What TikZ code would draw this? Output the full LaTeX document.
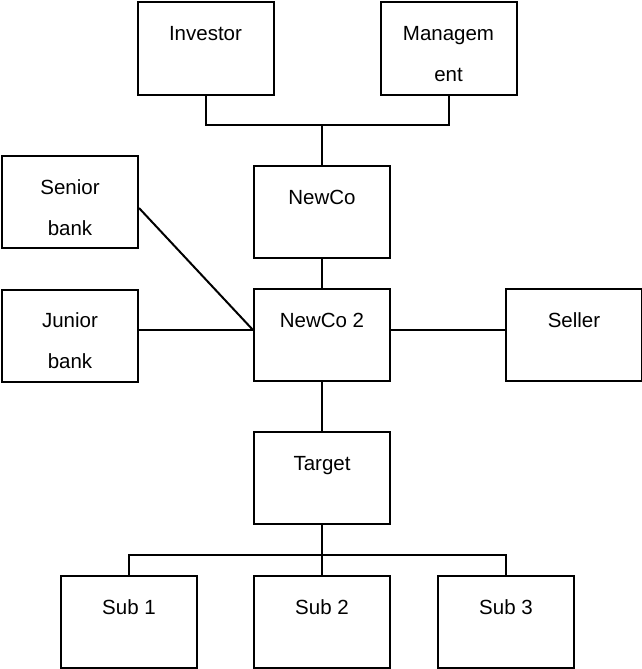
\documentclass[tikz,border=0pt]{standalone}
\usepackage{fontspec}
\setmainfont{Liberation Sans}
\usepackage{tikz}
\usetikzlibrary{positioning,calc}

\begin{document}
\begin{tikzpicture}[
    x=1pt, y=-1pt,
    entity/.style={rectangle, draw, line width=2pt, inner sep=0pt, minimum width=136pt,
        text height=38pt, text depth=54pt, align=center,
        font=\fontsize{20.5pt}{41pt}\selectfont},
    twoline/.style={text height=79pt, text depth=13pt},
    link/.style={line width=2pt}
]
    \useasboundingbox (0,0) rectangle (641,669);

    % Owners
    \node[entity] (investor) at (205.5,48.5) {Investor};
    \node[entity, twoline] (mgmt) at (448.5,48.5) {Managem\\ent};

    % Holding companies
    \node[entity] (newco) at (322,212) {NewCo};
    \node[entity] (newcotwo) at (322,335) {NewCo 2};

    % Lenders and seller
    \node[entity, twoline] (senior) at (70,202) {Senior\\bank};
    \node[entity, twoline] (junior) at (70,335.5) {Junior\\bank};
    \node[entity] (seller) at (574,335) {Seller};

    % Target group
    \node[entity] (target) at (322,478) {Target};
    \node[entity] (sub1) at (129,622) {Sub 1};
    \node[entity] (sub2) at (322,622) {Sub 2};
    \node[entity] (sub3) at (506,622) {Sub 3};

    \coordinate (ownbus) at (322,125);
    \coordinate (hub) at ($(newcotwo.west)+(0,-5)$);
    \coordinate (subbus) at (322,555);

    \draw[link] (investor) -- (investor |- ownbus) -- (mgmt |- ownbus) -- (mgmt);
    \draw[link] (newco) -- (ownbus);
    \draw[link] (newco) -- (newcotwo);

    \draw[link] ($(senior.east)+(0,6)$) -- (hub);
    \draw[link] (junior.east |- hub) -- (hub);
    \draw[link] (newcotwo.east |- hub) -- (seller.west |- hub);

    \draw[link] (newcotwo) -- (target);
    \draw[link] (target) -- (subbus);
    \draw[link] (sub1) -- (sub1 |- subbus) -- (sub3 |- subbus) -- (sub3);
    \draw[link] (subbus) -- (sub2);
\end{tikzpicture}
\end{document}
